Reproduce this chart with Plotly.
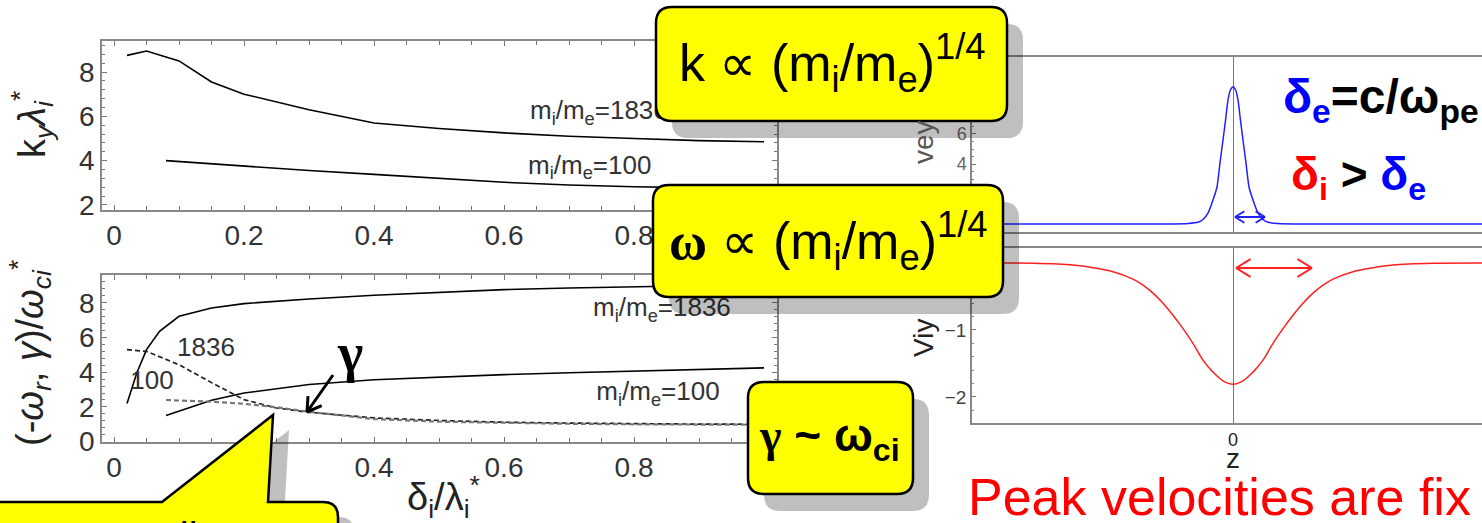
import plotly.graph_objects as go

W, H = 1482, 523

# ---------------- data ----------------
# top-left: k_y lambda_i* vs delta_i/lambda_i*
k_x_1836 = [0.02, 0.05, 0.10, 0.15, 0.20, 0.30, 0.40, 0.50, 0.60, 0.70, 0.80, 0.90, 1.00]
k_y_1836 = [8.75, 8.95, 8.50, 7.55, 7.00, 6.30, 5.70, 5.45, 5.25, 5.10, 5.00, 4.90, 4.85]
k_x_100 = [0.08, 0.20, 0.30, 0.40, 0.50, 0.60, 0.70, 0.80, 0.90, 1.00]
k_y_100 = [4.00, 3.75, 3.55, 3.38, 3.20, 3.02, 2.90, 2.82, 2.78, 2.75]

# bottom-left: (-omega_r, gamma)/omega_ci*
wr_x_1836 = [0.02, 0.035, 0.05, 0.07, 0.10, 0.15, 0.20, 0.30, 0.40, 0.50, 0.60, 0.70, 0.80, 0.90, 1.00]
wr_y_1836 = [2.2, 3.96, 5.3, 6.36, 7.22, 7.7, 7.95, 8.22, 8.43, 8.6, 8.76, 8.85, 8.93, 9.0, 9.05]
wr_x_100 = [0.08, 0.15, 0.20, 0.30, 0.40, 0.50, 0.60, 0.70, 0.80, 0.90, 1.00]
wr_y_100 = [1.5, 2.38, 2.8, 3.29, 3.57, 3.72, 3.86, 3.97, 4.06, 4.15, 4.25]
g_x_1836 = [0.02, 0.05, 0.10, 0.15, 0.20, 0.25, 0.30, 0.40, 0.50, 0.60, 0.70, 0.80, 0.90, 1.00]
g_y_1836 = [5.3, 5.2, 4.43, 3.4, 2.42, 1.94, 1.69, 1.37, 1.22, 1.12, 1.07, 1.03, 1.01, 1.0]
g_x_100 = [0.08, 0.15, 0.20, 0.25, 0.30, 0.40, 0.50, 0.60, 0.70, 0.80, 0.90, 1.00]
g_y_100 = [2.4, 2.3, 2.18, 1.98, 1.72, 1.3, 1.15, 1.07, 1.03, 1.0, 0.98, 0.97]

# right: velocity profiles vs z
ve_z = [-2.61, -1.0, -0.6, -0.45, -0.35, -0.30, -0.25, -0.20, -0.16, -0.13, -0.10, -0.075, -0.05, -0.025, 0.0,
        0.025, 0.05, 0.075, 0.10, 0.13, 0.16, 0.20, 0.25, 0.30, 0.35, 0.45, 0.6, 1.0, 2.49]
ve_v = [0.0, 0.0, 0.01, 0.04, 0.12, 0.3, 0.73, 1.6, 2.47, 4.07, 5.6, 6.9, 8.27, 8.95, 9.15,
        8.95, 8.27, 6.9, 5.6, 4.07, 2.47, 1.6, 0.73, 0.3, 0.12, 0.04, 0.01, 0.0, 0.0]
vi_z = [-2.61, -2.0, -1.6, -1.4, -1.2, -1.0, -0.9, -0.8, -0.7, -0.6, -0.5, -0.4, -0.3, -0.2, -0.1, 0.0,
        0.1, 0.2, 0.3, 0.4, 0.5, 0.6, 0.7, 0.8, 0.9, 1.0, 1.2, 1.4, 1.6, 2.0, 2.49]
vi_v = [0.0, -0.005, -0.03, -0.07, -0.13, -0.24, -0.33, -0.45, -0.60, -0.78, -0.98, -1.20, -1.45, -1.63, -1.76, -1.81,
        -1.76, -1.63, -1.45, -1.20, -0.98, -0.78, -0.60, -0.45, -0.33, -0.24, -0.13, -0.07, -0.03, -0.005, 0.0]

SANS = "Liberation Sans, Arial, sans-serif"
SERIF = "Liberation Serif, Times New Roman, serif"


def px(x):
    return x / W


def py(y):
    return 1 - y / H


def P(x, y):
    return f"{px(x):.5f},{py(y):.5f}"


def rrect(x0, y0, x1, y1, r):
    return (f"M {P(x0 + r, y0)} L {P(x1 - r, y0)} Q {P(x1, y0)} {P(x1, y0 + r)} "
            f"L {P(x1, y1 - r)} Q {P(x1, y1)} {P(x1 - r, y1)} L {P(x0 + r, y1)} "
            f"Q {P(x0, y1)} {P(x0, y1 - r)} L {P(x0, y0 + r)} Q {P(x0, y0)} {P(x0 + r, y0)} Z")


fig = go.Figure()

line_k = dict(color="black", width=1.6)
fig.add_trace(go.Scatter(x=k_x_1836, y=k_y_1836, mode="lines", line=line_k, xaxis="x", yaxis="y"))
fig.add_trace(go.Scatter(x=k_x_100, y=k_y_100, mode="lines", line=line_k, xaxis="x", yaxis="y"))
fig.add_trace(go.Scatter(x=[0.64, 0.637], y=[6.15, 3.71], mode="text",
                         text=["m<sub>i</sub>/m<sub>e</sub>=1836", "m<sub>i</sub>/m<sub>e</sub>=100"],
                         textposition="middle right", textfont=dict(family=SANS, size=26, color="#333"),
                         xaxis="x", yaxis="y"))

fig.add_trace(go.Scatter(x=wr_x_1836, y=wr_y_1836, mode="lines", line=line_k, xaxis="x2", yaxis="y2"))
fig.add_trace(go.Scatter(x=wr_x_100, y=wr_y_100, mode="lines", line=line_k, xaxis="x2", yaxis="y2"))
dash = dict(color="#222", width=1.7, dash="5px,3px")
fig.add_trace(go.Scatter(x=g_x_1836, y=g_y_1836, mode="lines", line=dash, xaxis="x2", yaxis="y2"))
fig.add_trace(go.Scatter(x=g_x_100, y=g_y_100, mode="lines", line=dict(color="#777", width=2.2, dash="5px,3px"),
                         xaxis="x2", yaxis="y2"))
fig.add_trace(go.Scatter(x=[0.737, 0.742, 0.097, 0.025], y=[7.6, 2.77, 5.3, 3.4], mode="text",
                         text=["m<sub>i</sub>/m<sub>e</sub>=1836", "m<sub>i</sub>/m<sub>e</sub>=100", "1836", "100"],
                         textposition="middle right", textfont=dict(family=SANS, size=26, color="#333"),
                         xaxis="x2", yaxis="y2"))

fig.add_trace(go.Scatter(x=ve_z, y=ve_v, mode="lines", line=dict(color="#2020ff", width=1.5, shape="spline", smoothing=0.5),
                         xaxis="x3", yaxis="y3"))
fig.add_trace(go.Scatter(x=vi_z, y=vi_v, mode="lines", line=dict(color="#ff2020", width=1.5, shape="spline", smoothing=1.0),
                         xaxis="x4", yaxis="y4"))

L_DOM = [px(102), px(777)]
R_DOM = [px(972), 1.0]

left_x = dict(range=[-0.0185, 1.02], dtick=0.2, tick0=0, ticks="inside", ticklen=5, tickcolor="#777",
              showline=True, linecolor="#888", linewidth=1.5, mirror="ticks", showgrid=False, zeroline=False,
              tickfont=dict(family=SANS, size=28, color="#333"),
              minor=dict(dtick=0.05, ticks="inside", ticklen=4, tickcolor="#777"))
left_y = dict(dtick=2, tick0=0, ticks="inside", ticklen=5, tickcolor="#777",
              showline=True, linecolor="#888", linewidth=1.5, mirror="ticks", showgrid=False, zeroline=False,
              tickfont=dict(family=SANS, size=28, color="#333"),
              minor=dict(dtick=0.4, ticks="inside", ticklen=3, tickcolor="#777"))
right_x = dict(range=[-2.61, 2.49], tickvals=[0], ticks="", showline=True, linecolor="#888", linewidth=1.5,
               mirror=True, showgrid=False, zeroline=True, zerolinecolor="#777", zerolinewidth=1,
               tickfont=dict(family=SANS, size=18, color="#222"))
right_y = dict(ticks="inside", ticklen=4, tickcolor="#777", showline=True, linecolor="#888", linewidth=1.5,
               showgrid=False, zeroline=False, tickfont=dict(family=SANS, size=19, color="#444"),
               minor=dict(ticks="inside", ticklen=2, tickcolor="#888", nticks=6))

fig.update_layout(
    width=W, height=H, autosize=False, margin=dict(l=0, r=0, t=0, b=0, pad=0, autoexpand=False),
    paper_bgcolor="white", plot_bgcolor="white", showlegend=False,
    xaxis=dict(left_x, domain=L_DOM, anchor="y"),
    yaxis=dict(left_y, domain=[py(210), py(41)], range=[1.77, 9.40], anchor="x"),
    xaxis2=dict(left_x, domain=L_DOM, anchor="y2"),
    yaxis2=dict(left_y, domain=[py(442), py(275)], range=[-0.02, 9.6], anchor="x2"),
    xaxis3=dict(right_x, domain=R_DOM, anchor="y3", showticklabels=False),
    yaxis3=dict(right_y, domain=[py(232), py(57)], range=[-0.53, 11.13], dtick=2, anchor="x3",
                tickfont=dict(family=SANS, size=18, color="#666")),
    xaxis4=dict(right_x, domain=R_DOM, anchor="y4"),
    yaxis4=dict(right_y, domain=[py(423), py(248)], range=[-2.39, 0.224], dtick=1, anchor="x4"),
)

shapes = []
SHADOW = "rgba(0,0,0,0.25)"
YEL = "#ffff00"


def callout(x0, y0, x1, y1, dx=16, dy=17, r=16):
    shapes.append(dict(type="path", xref="paper", yref="paper", path=rrect(x0 + dx, y0 + dy, x1 + dx, y1 + dy, r),
                       fillcolor=SHADOW, line=dict(width=0), layer="above"))
    shapes.append(dict(type="path", xref="paper", yref="paper", path=rrect(x0, y0, x1, y1, r),
                       fillcolor=YEL, line=dict(color="black", width=2.5), layer="above"))


callout(656, 7, 1007, 121)
callout(653, 185, 1003, 297)
callout(748, 382, 913, 494)


def bubble(dx, dy):
    pts = [(-30, 502), (162, 502), (273, 415), (268, 502), (323, 502)]
    s = "M " + " L ".join(P(x + dx, y + dy) for x, y in pts)
    s += f" Q {P(338 + dx, 502 + dy)} {P(338 + dx, 517 + dy)} L {P(338 + dx, 560)} L {P(-30, 560)} Z"
    return s


shapes.append(dict(type="path", xref="paper", yref="paper", path=bubble(16, 15), fillcolor=SHADOW,
                   line=dict(width=0), layer="above"))
shapes.append(dict(type="path", xref="paper", yref="paper", path=bubble(0, 0), fillcolor=YEL,
                   line=dict(color="black", width=2.5), layer="above"))


def chevron_arrow(x0, y0, x1, y1, color, w, head, both=False):
    import math
    segs = [f"M {P(x0, y0)} L {P(x1, y1)}"]
    ang = math.atan2(y1 - y0, x1 - x0)
    ends = [(x1, y1, ang)]
    if both:
        ends.append((x0, y0, ang + math.pi))
    for ex, ey, a in ends:
        for s in (+1, -1):
            hx = ex - head * math.cos(a + s * 0.55)
            hy = ey - head * math.sin(a + s * 0.55)
            segs.append(f"M {P(ex, ey)} L {P(hx, hy)}")
    shapes.append(dict(type="path", xref="paper", yref="paper", path=" ".join(segs),
                       line=dict(color=color, width=w), layer="above"))


chevron_arrow(333, 375, 307, 412, "black", 3, 16)
chevron_arrow(1235, 217, 1265, 217, "#2020ff", 2, 11, both=True)
chevron_arrow(1236, 268, 1312, 268, "#ff2020", 2, 17, both=True)

fig.update_layout(shapes=shapes)

ann = []


def A(x, y, text, size, color="black", family=SANS, angle=0, xanchor="center", yanchor="middle"):
    ann.append(dict(x=px(x), y=py(y), xref="paper", yref="paper", text=text, showarrow=False,
                    font=dict(family=family, size=size, color=color), textangle=angle,
                    xanchor=xanchor, yanchor=yanchor))


A(32, 125, "k<sub><i>y</i></sub><i>λ</i><sub><i>i</i></sub><sup>*</sup>", 38, "#222", angle=-90)
A(30, 353, "(-<i>ω</i><sub><i>r</i></sub>, <i>γ</i>)/<i>ω</i><sub><i>ci</i></sub><sup>*</sup>", 38, "#222", angle=-90)
A(443, 497, "δ<sub>i</sub>/λ<sub>i</sub><sup>*</sup>", 38, "#222")
A(350, 353, "<b>γ</b>", 54, family=SERIF)
A(832, 63, "k ∝ (m<sub>i</sub>/m<sub>e</sub>)<sup>1/4</sup>", 52)
A(828, 241, "<b><span style='font-family:Liberation Serif'>ω</span></b> ∝ (m<sub>i</sub>/m<sub>e</sub>)<sup>1/4</sup>", 52)
A(830, 438, "<b><span style='font-family:Liberation Serif'>γ</span> ~ ω<sub>ci</sub></b>", 46)
A(1281, 100, "<b><span style='color:#0000ff'>δ<sub>e</sub></span>=c/ω<sub>pe</sub></b>", 48, xanchor="left")
A(1289, 177, "<b><span style='color:#ff0000'>δ<sub>i</sub></span> > <span style='color:#0000ff'>δ<sub>e</sub></span></b>", 46, xanchor="left")
A(966, 497, "Peak velocities are fix", 52, "#ff0000", xanchor="left")
A(0, 537, "Same scaling", 40, xanchor="left")
A(923, 142, "vey", 28, "#555", angle=-90)
A(923, 338, "Viy", 28, "#222", angle=-90)
A(1233, 458, "z", 28, "#222")

fig.update_layout(annotations=ann)

fig.write_html("out.html")
